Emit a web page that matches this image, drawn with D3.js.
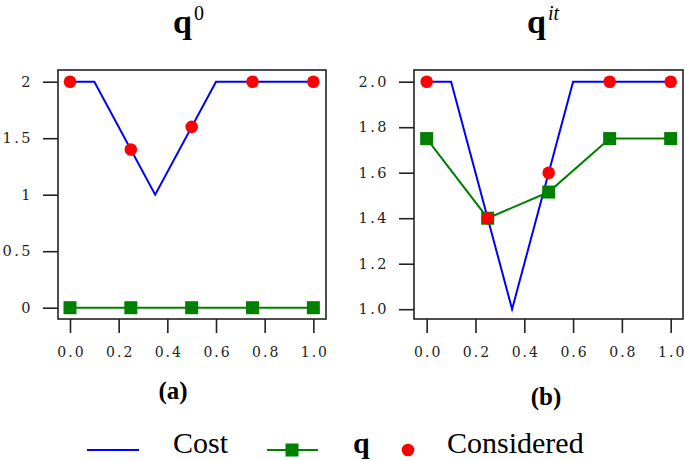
<!DOCTYPE html>
<html>
<head>
<meta charset="utf-8">
<script src="https://cdn.jsdelivr.net/npm/d3@7"></script>
<style>
html,body{margin:0;padding:0;background:#fff;}
svg{display:block;}
.serif{font-family:"Liberation Serif","DejaVu Serif","Noto Serif",serif;}
.tick text{font-family:"DejaVu Serif","Liberation Serif",serif;}
</style>
</head>
<body>
<svg id="chart" width="685" height="461"></svg>
<script>
// ---- data ----
const costX = [0, 0.1, 0.35, 0.6, 1.0];
const costY = [2, 2, 1, 2, 2];
const sampleX = [0, 0.25, 0.5, 0.75, 1.0];
const consideredY = [2, 1.4, 1.6, 2, 2];
const q0Y = [0, 0, 0, 0, 0];
const qitY = [1.75, 1.4, 1.515, 1.75, 1.75];
const xTicks = [0, 0.2, 0.4, 0.6, 0.8, 1.0];
const yTicksA = [0, 0.5, 1, 1.5, 2];
const yTicksB = [1.0, 1.2, 1.4, 1.6, 1.8, 2.0];
const legendLabels = ["Cost", "q", "Considered"];

const svg = d3.select("#chart");
const BLUE = "#0000ff", GREEN = "#008000", RED = "#ff0000", INK = "#222";

function panel(opt) {
  const x = d3.scaleLinear().domain(opt.xDom).range([opt.left, opt.right]);
  const y = d3.scaleLinear().domain(opt.yDom).range([opt.bottom, opt.top]);
  const g = svg.append("g");

  const ya = g.append("g").attr("transform", `translate(${opt.left},0)`)
    .call(d3.axisLeft(y).tickValues(opt.yTicks).tickFormat(opt.yFmt).tickSize(15).tickPadding(10));
  const xa = g.append("g").attr("transform", `translate(0,${opt.bottom})`)
    .call(d3.axisBottom(x).tickValues(xTicks).tickFormat(d3.format(".1f")).tickSize(14).tickPadding(14));
  [ya, xa].forEach(a => {
    a.select(".domain").remove();
    a.attr("font-family", null);
    a.selectAll(".tick line").attr("stroke", INK).attr("stroke-width", 1.6);
    a.selectAll(".tick text").attr("fill", INK)
      .attr("font-size", 14.5).attr("letter-spacing", "2.5px");
  });
  xa.selectAll(".tick text").attr("font-size", 14).attr("letter-spacing", "2px").attr("dx", "1px");

  const line = d3.line().x(d => x(d[0])).y(d => y(d[1]));
  g.append("path").datum(d3.zip(costX, costY)).attr("d", line)
    .attr("fill", "none").attr("stroke", BLUE).attr("stroke-width", 2);
  const qd = d3.zip(sampleX, opt.qY);
  g.append("path").datum(qd).attr("d", line)
    .attr("fill", "none").attr("stroke", GREEN).attr("stroke-width", 2);
  g.selectAll("rect.q").data(qd).enter().append("rect")
    .attr("x", d => x(d[0]) - 6.5).attr("y", d => y(d[1]) - 6.5)
    .attr("width", 13).attr("height", 13).attr("fill", GREEN);
  g.selectAll("circle.c").data(d3.zip(sampleX, consideredY)).enter().append("circle")
    .attr("cx", d => x(d[0])).attr("cy", d => y(d[1])).attr("r", 6.3).attr("fill", RED);

  g.append("rect").attr("x", opt.left).attr("y", opt.top)
    .attr("width", opt.right - opt.left).attr("height", opt.bottom - opt.top)
    .attr("fill", "none").attr("stroke", INK).attr("stroke-width", 1.6);

  const t = g.append("text").attr("class", "serif").attr("x", opt.titleX).attr("y", 33).attr("fill", "#000");
  t.append("tspan").attr("font-weight", "bold").attr("font-size", 34).text("q");
  t.append("tspan").attr("font-size", 20).attr("dy", -13).attr("dx", 2)
    .attr("font-style", opt.supItalic ? "italic" : "normal").text(opt.sup);

  g.append("text").attr("class", "serif").attr("x", opt.labX).attr("y", opt.labY).attr("text-anchor", "middle")
    .attr("font-weight", "bold").attr("font-size", 25).text(opt.lab);
}

panel({left: 58, right: 326, top: 70, bottom: 319,
  xDom: [-0.0493, 1.052], yDom: [-0.1, 2.1035],
  yTicks: yTicksA, yFmt: d3.format("~g"), qY: q0Y,
  titleX: 173, sup: "0", supItalic: false, lab: "(a)", labX: 173, labY: 399});
panel({left: 414, right: 683, top: 70, bottom: 319,
  xDom: [-0.052, 1.0505], yDom: [0.957, 2.0514],
  yTicks: yTicksB, yFmt: d3.format(".1f"), qY: qitY,
  titleX: 527, sup: "it", supItalic: true, lab: "(b)", labX: 546, labY: 405});

const lg = svg.append("g");
const ly = 450;
const lbase = 453;
lg.append("line").attr("x1", 87).attr("x2", 139).attr("y1", ly).attr("y2", ly)
  .attr("stroke", BLUE).attr("stroke-width", 2);
lg.append("text").attr("class", "serif").attr("x", 173).attr("y", lbase)
  .attr("font-size", 30).text(legendLabels[0]);
lg.append("line").attr("x1", 267).attr("x2", 318).attr("y1", ly).attr("y2", ly)
  .attr("stroke", GREEN).attr("stroke-width", 2);
lg.append("rect").attr("x", 292 - 6.5).attr("y", ly - 6.5).attr("width", 13).attr("height", 13).attr("fill", GREEN);
lg.append("text").attr("class", "serif").attr("x", 353).attr("y", lbase)
  .attr("font-weight", "bold").attr("font-size", 30).text(legendLabels[1]);
lg.append("circle").attr("cx", 408).attr("cy", ly).attr("r", 6.3).attr("fill", RED);
lg.append("text").attr("class", "serif").attr("x", 447).attr("y", lbase)
  .attr("font-size", 30).text(legendLabels[2]);
</script>
</body>
</html>
